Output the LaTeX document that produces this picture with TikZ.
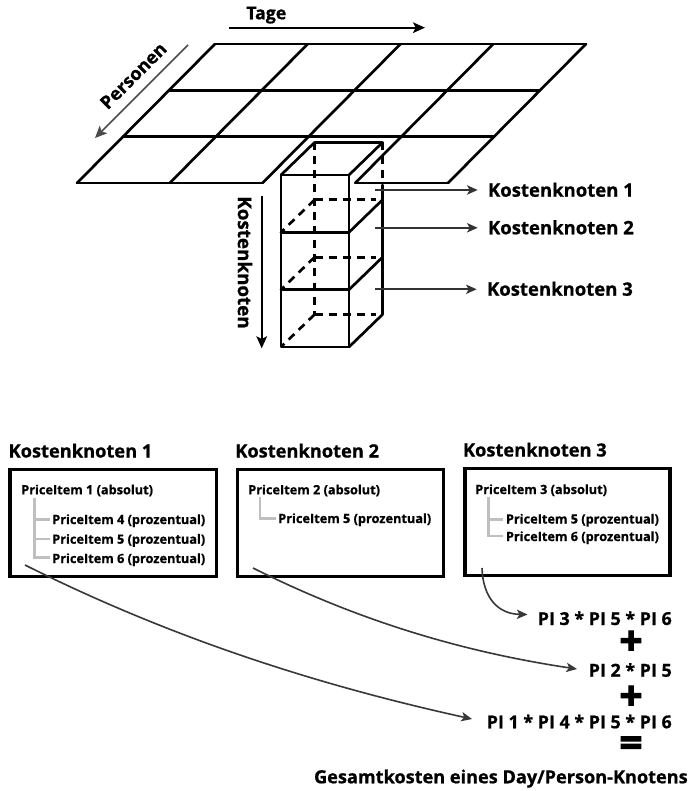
\documentclass[tikz,border=0pt]{standalone}
\usepackage{fontspec}
\setmainfont{Open Sans}[BoldFeatures={FakeBold=0.8}]
\newfontfamily\heavyfont{Open Sans}[BoldFeatures={FakeBold=3}]
\usetikzlibrary{arrows.meta}
\begin{document}
\begin{tikzpicture}[x=0.75pt,y=-0.75pt,
  gridline/.style={line width=2pt, line join=round, line cap=round},
  hidden/.style={line width=2pt, dash pattern=on 6pt off 4.5pt},
  pointer/.style={line width=1.3pt, draw=black!80, shorten >=7.5pt, -{Stealth[length=8pt,width=7pt,inset=2pt]}},
  axis/.style={line width=1.3pt, -{Stealth[length=9pt,width=8pt,inset=2pt]}},
  flow/.style={line width=1.2pt, draw=black!78, -{Stealth[length=8pt,width=7pt,inset=2pt]}},
  tree/.style={line width=2.2pt, draw=black!25},
  kbox/.style={draw, line width=2.5pt, inner sep=0pt},
  heading/.style={font=\fontsize{13.7}{16}\selectfont\bfseries, inner sep=0pt, anchor=base west},
  layer/.style={font=\fontsize{13.9}{16}\selectfont\bfseries, inner sep=0pt, anchor=base west},
  axislabel/.style={font=\fontsize{13.6}{16}\selectfont\bfseries, inner sep=0pt},
  item/.style={font=\fontsize{9.55}{12}\selectfont\bfseries, inner sep=0pt, anchor=base west},
  formula/.style={font=\fontsize{13.4}{16}\selectfont\bfseries, inner sep=0pt, anchor=base east},
  opsign/.style={font=\heavyfont\fontsize{30}{30}\selectfont\bfseries, inner sep=0pt},
  total/.style={font=\fontsize{13.6}{16}\selectfont\bfseries, inner sep=0pt, anchor=base east}
]
\useasboundingbox (0,0) rectangle (693,791);

% ---------- day/person grid ----------
\foreach \k in {0,...,4}
  \draw[gridline] ({215+92.75*\k},44) -- ({77+92.75*\k},183);
\draw[gridline] (215,44) -- (586,44);
\draw[gridline] (169,90.3) -- (540,90.3);
\draw[gridline] (123,136.7) -- (494,136.7);
\draw[gridline] (77,183) -- (262.5,183);
\draw[gridline] (355.25,183) -- (448,183);

% ---------- column of cost nodes ----------
% hidden edges
\draw[hidden] (314.5,142.5) -- (314.5,314.5);
\draw[hidden] (382.5,142.5) -- (382.5,183);
\foreach \yb/\yf in {199.8/232.3, 257.2/289.7, 314.5/347}{
  \draw[hidden] (314.5,\yb) -- (376,\yb);
  \draw[hidden] (314.5,\yb) -- (281,\yf);
}
% visible edges
\draw[gridline] (281,175) rectangle (349,347);
\draw[gridline] (281,232.3) -- (349,232.3);
\draw[gridline] (281,289.7) -- (349,289.7);
\draw[gridline] (281,175) -- (314.5,142.5) -- (382.5,142.5) -- (349,175);
\foreach \yf in {232.3, 289.7, 347}
  \draw[gridline] (349,\yf) -- (382.5,\yf-32.5);
\draw[gridline] (382.5,185) -- (382.5,314.5);

% ---------- axes ----------
\node[axislabel, font=\fontsize{13.3}{16}\selectfont\bfseries, anchor=base west] (tage) at (246,19.3) {Tage};
\coordinate (tageA) at (229,27.7);
\coordinate (tageB) at (425,27.7);
\draw[axis] (tageA) -- (tageB);

\node[axislabel, rotate=45] (personen) at (133.3,75.7) {Personen};
\coordinate (persA) at (188,45);
\coordinate (persB) at (95,138);
\draw[axis, draw=black!70] (persA) -- (persB);

\node[axislabel, font=\fontsize{14.1}{16}\selectfont\bfseries, rotate=-90] (knoten) at (245,262.5) {Kostenknoten};
\coordinate (knA) at (261.7,195.7);
\coordinate (knB) at (261.7,348.3);
\draw[axis] (knA) -- (knB);

% ---------- layer labels ----------
\node[layer] (lab1) at (487.7,196.7) {Kostenknoten 1};
\node[layer] (lab2) at (487.7,234.3) {Kostenknoten 2};
\node[layer] (lab3) at (486.7,295.7) {Kostenknoten 3};
\coordinate (lay1) at (375,190);
\coordinate (lay2) at (375,227.8);
\coordinate (lay3) at (375,289.3);
\draw[pointer] (lay1) -- (lab1.west |- lay1);
\draw[pointer] (lay2) -- (lab2.west |- lay2);
\draw[pointer] (lay3) -- (lab3.west |- lay3);

% ---------- cost node boxes ----------
\node[heading] (h1) at (8.3,457.5) {Kostenknoten 1};
\node[heading] (h2) at (235,457.5) {Kostenknoten 2};
\node[heading] (h3) at (462.7,456.5) {Kostenknoten 3};

\node[kbox, minimum width=206.7*0.75pt, minimum height=107.4*0.75pt] (box1) at (113.3,523) {};
\node[kbox, minimum width=206*0.75pt, minimum height=107.4*0.75pt] (box2) at (340.3,523) {};
\node[kbox, minimum width=205*0.75pt, minimum height=107.4*0.75pt] (box3) at (567.5,522) {};

% box 1
\draw[tree] (34.3,498) -- (34.3,557.7) -- (50,557.7);
\draw[tree] (34.3,519.3) -- (50,519.3);
\draw[tree] (34.3,539) -- (50,539);
\node[item] (p1) at (21,494.3) {PriceItem 1 (absolut)};
\node[item] (p14) at (52,524) {PriceItem 4 (prozentual)};
\node[item] (p15) at (52,543.7) {PriceItem 5 (prozentual)};
\node[item] (p16) at (52,563) {PriceItem 6 (prozentual)};

% box 2
\draw[tree] (260,496.7) -- (260,518.3) -- (275.5,518.3);
\node[item] (p2) at (248,494.3) {PriceItem 2 (absolut)};
\node[item] (p25) at (278,523) {PriceItem 5 (prozentual)};

% box 3
\draw[tree] (488.3,496.7) -- (488.3,536) -- (503,536);
\draw[tree] (488.3,519.3) -- (503,519.3);
\node[item] (p3) at (475,494) {PriceItem 3 (absolut)};
\node[item] (p35) at (505.7,523.5) {PriceItem 5 (prozentual)};
\node[item] (p36) at (505.7,541) {PriceItem 6 (prozentual)};

% ---------- cost formula ----------
\node[formula] (f3) at (672,625) {PI 3 * PI 5 * PI 6};
\node[opsign] (plus1) at (631,642.8) {+};
\node[formula] (f2) at (672,676.7) {PI 2 * PI 5};
\node[opsign] (plus2) at (631,697.8) {+};
\node[formula] (f1) at (672,728.3) {PI 1 * PI 4 * PI 5 * PI 6};
\node[opsign] (eq) at (631,746.7) {=};
\node[total] (sum) at (688,783.3) {Gesamtkosten eines Day/Person-Knotens};

\coordinate (s1) at (25,565);
\coordinate (s2) at (253,568);
\coordinate (s3) at (482,568);
\coordinate (t1) at (472,719);
\coordinate (t2) at (577,669);
\coordinate (t3) at (527.5,614.5);
\draw[flow] (s3) .. controls (483,598) and (498,614) .. (t3);
\draw[flow] (s2) .. controls (363,623) and (467,652.5) .. (t2);
\draw[flow] (s1) .. controls (175,640) and (322,686) .. (t1);
\end{tikzpicture}
\end{document}
